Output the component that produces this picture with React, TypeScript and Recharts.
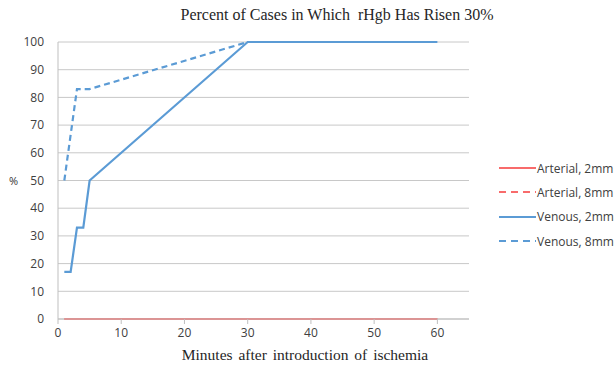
import { CartesianGrid, Line, LineChart, XAxis, YAxis } from "recharts";

const minutes = [1, 2, 3, 4, 5, 30, 60];
const arterial2 = [0, 0, 0, 0, 0, 0, 0];
const arterial8 = [0, 0, 0, 0, 0, 0, 0];
const venous2 = [17, 17, 33, 33, 50, 100, 100];
const venous8Minutes = [1, 3, 5, 30, 60];
const venous8 = [50, 83, 83, 100, 100];

const xTicks = [0, 10, 20, 30, 40, 50, 60];
const yTicks = [0, 10, 20, 30, 40, 50, 60, 70, 80, 90, 100];

const RED = "#f86b6b";
const BLUE = "#5b9bd5";

const toPoints = (xs: number[], ys: number[]) => xs.map((x, i) => ({ x, y: ys[i] }));

const series = [
  { name: "Arterial, 2mm", data: toPoints(minutes, arterial2), color: RED, dash: undefined },
  { name: "Arterial, 8mm", data: toPoints(minutes, arterial8), color: RED, dash: "6 4" },
  { name: "Venous, 2mm", data: toPoints(minutes, venous2), color: BLUE, dash: undefined },
  { name: "Venous, 8mm", data: toPoints(venous8Minutes, venous8), color: BLUE, dash: "6 4" },
];

const sans = "'Open Sans', sans-serif";
const serif = "'Liberation Serif', serif";

function LegendBox() {
  return (
    <div style={{ position: "absolute", left: 499, top: 156, fontFamily: sans, fontSize: 12, color: "#404040" }}>
      {series.map((s) => (
        <div key={s.name} style={{ display: "flex", alignItems: "center", height: 24.3, whiteSpace: "nowrap" }}>
          <svg width={37} height={6} style={{ marginRight: 1 }}>
            <line x1={0} y1={3} x2={37} y2={3} stroke={s.color} strokeWidth={2} strokeDasharray={s.dash ? "7 5" : undefined} />
          </svg>
          <span>{s.name}</span>
        </div>
      ))}
    </div>
  );
}

export default function App() {
  return (
    <div style={{ position: "absolute", left: 0, top: 0, width: 616, height: 370, background: "#fff" }}>
      <div
        style={{
          position: "absolute",
          top: 6,
          left: 170,
          width: 334,
          textAlign: "center",
          fontFamily: serif,
          fontSize: 16,
          color: "#262626",
          whiteSpace: "nowrap",
        }}
      >
        Percent of Cases in Which&nbsp; rHgb Has Risen 30%
      </div>
      <div style={{ position: "absolute", left: 9, top: 173, fontFamily: sans, fontSize: 11, color: "#333" }}>%</div>
      <div
        style={{
          position: "absolute",
          left: 150,
          width: 310,
          top: 346,
          textAlign: "center",
          fontFamily: serif,
          fontSize: 15.5,
          color: "#262626",
          wordSpacing: 2,
          whiteSpace: "nowrap",
        }}
      >
        Minutes after introduction of ischemia
      </div>
      <LineChart width={616} height={370} margin={{ top: 42, right: 147, bottom: 21, left: 0 }}>
        <CartesianGrid vertical={false} stroke="#c8c8c8" strokeWidth={1} />
        <XAxis
          type="number"
          dataKey="x"
          domain={[0, 65]}
          ticks={xTicks}
          height={30}
          axisLine={{ stroke: "#bfbfbf" }}
          tickLine={{ stroke: "#bfbfbf" }}
          tickSize={5}
          tickMargin={4}
          tick={{ fill: "#404040", fontSize: 12, fontFamily: sans }}
          allowDuplicatedCategory={false}
        />
        <YAxis
          type="number"
          dataKey="y"
          domain={[0, 100]}
          ticks={yTicks}
          width={58}
          axisLine={{ stroke: "#bfbfbf" }}
          tickLine={false}
          tickMargin={8}
          tick={{ fill: "#404040", fontSize: 12, fontFamily: sans }}
        />
        {series.map((s) => (
          <Line
            key={s.name}
            data={s.data}
            dataKey="y"
            name={s.name}
            type="linear"
            stroke={s.color}
            strokeWidth={2.2}
            strokeDasharray={s.dash}
            dot={false}
            activeDot={false}
            isAnimationActive={false}
          />
        ))}
      </LineChart>
      <LegendBox />
    </div>
  );
}
